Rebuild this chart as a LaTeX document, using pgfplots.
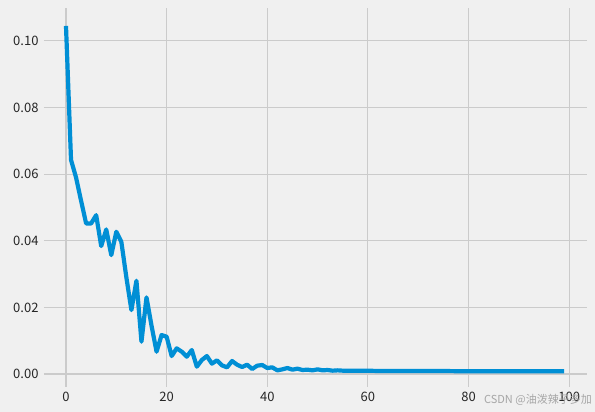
\documentclass[border=0pt]{standalone}
\usepackage{fontspec}
\setmainfont{Noto Sans CJK SC}
\usepackage{pgfplots}
\pgfplotsset{compat=1.18}
\definecolor{bg}{HTML}{F0F0F0}
\definecolor{gridc}{HTML}{CBCBCB}
\definecolor{line538}{HTML}{008FD5}
\begin{document}
\begin{tikzpicture}[x=1pt,y=1pt]
\path[use as bounding box, fill=bg] (0,0) rectangle (595,412);
\begin{axis}[
  at={(44pt,25pt)}, anchor=south west,
  scale only axis, width=543.3pt, height=378.7pt,
  xmin=-4.37, xmax=103.6, ymin=-0.0039, ymax=0.1098,
  axis line style={draw=none},
  axis background/.style={fill=bg},
  major tick length=0pt,
  grid=major,
  grid style={gridc, line width=1.1pt},
  xtick={0,20,40,60,80,100},
  ytick={0,0.02,0.04,0.06,0.08,0.10},
  /pgf/number format/assume math mode=true,
  yticklabel style={/pgf/number format/fixed,/pgf/number format/fixed zerofill,/pgf/number format/precision=2, font=\fontsize{13}{15}\selectfont, text=black!85, xshift=-2pt},
  xticklabel style={font=\fontsize{13}{15}\selectfont, text=black!85, yshift=-2pt},
  scaled y ticks=false,
  clip=false,
]
\addplot[line538, line width=4.2pt, line join=round] table {
x y
0 0.1045
1 0.0643
2 0.0590
3 0.0520
4 0.0452
5 0.0452
6 0.0477
7 0.0384
8 0.0434
9 0.0357
10 0.0427
11 0.0397
12 0.0290
13 0.0192
14 0.0280
15 0.0097
16 0.0230
17 0.0145
18 0.0067
19 0.0117
20 0.0112
21 0.0054
22 0.0077
23 0.0067
24 0.0052
25 0.0072
26 0.0022
27 0.0042
28 0.0054
29 0.0031
30 0.0041
31 0.0026
32 0.0020
33 0.0039
34 0.0028
35 0.0021
36 0.0028
37 0.0015
38 0.0025
39 0.0027
40 0.0018
41 0.0020
42 0.0011
43 0.0014
44 0.0018
45 0.0013
46 0.0016
47 0.0012
48 0.0013
49 0.0011
50 0.0014
51 0.0011
52 0.0012
53 0.0010
54 0.0011
55 0.0010
56 0.0010
57 0.0010
58 0.0010
59 0.0010
60 0.0010
62 0.0009
64 0.0009
66 0.0009
68 0.0009
70 0.0009
75 0.0009
80 0.0008
85 0.0008
90 0.0008
95 0.0008
99 0.0008
};
\end{axis}
\node[anchor=east, text=black!35, font=\fontsize{11}{13}\selectfont, inner sep=0pt] at (592,12) {CSDN @油泼辣子多加};
\end{tikzpicture}
\end{document}
